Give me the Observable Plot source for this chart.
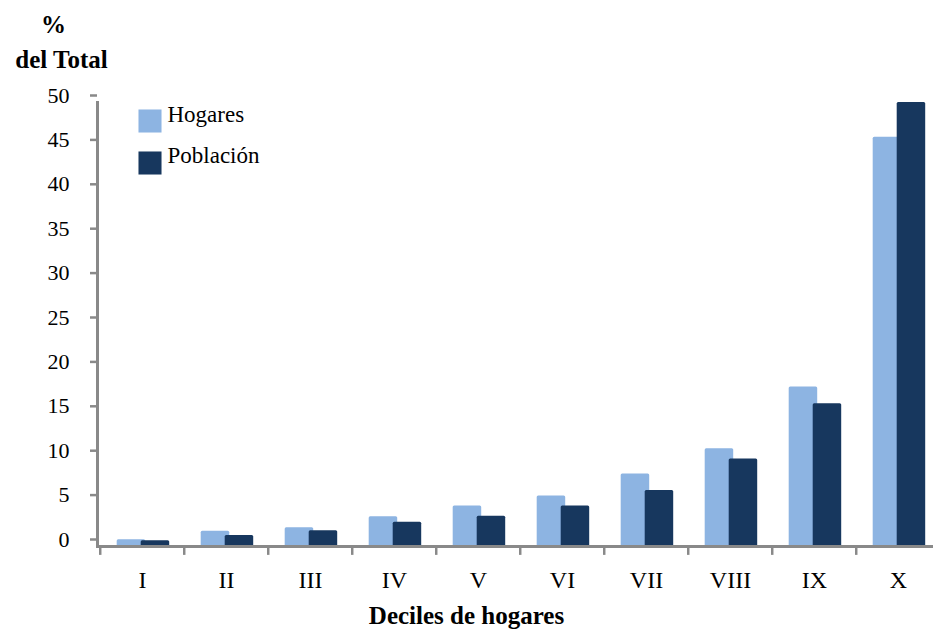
<!DOCTYPE html>
<html><head><meta charset="utf-8">
<script src="https://cdn.jsdelivr.net/npm/d3@7"></script>
<script src="https://cdn.jsdelivr.net/npm/@observablehq/plot@0.6"></script>
<style>
body{margin:0;background:#fff;}
#wrap{width:933px;height:632px;overflow:hidden;}
#wrap svg, #wrap svg text, #wrap svg tspan{font-family:"Liberation Serif","Times New Roman",serif !important;}
</style></head><body><div id="wrap"></div>
<script>
const deciles = ["I","II","III","IV","V","VI","VII","VIII","IX","X"];
const hogares = [0.75,1.73,2.1,3.34,4.57,5.68,8.16,11.0,17.96,46.1];
const poblacion = [0.65,1.24,1.76,2.74,3.41,4.55,6.32,9.85,16.08,50.0];
const seriesNames = ["Hogares","Población"];
const seriesColors = ["#8DB4E2","#17375E"];
const yTicks = [0,5,10,15,20,25,30,35,40,45,50];
const yTitle = ["%","del Total"];
const xTitle = "Deciles de hogares";

const FONT = '"Liberation Serif", serif';
const dataH = deciles.map((d,i)=>({decil:d, value:hogares[i]}));
const dataP = deciles.map((d,i)=>({decil:d, value:poblacion[i]}));
const axisColor = "#898989";
const bw = (942.8-97.3)/10;

const chart = Plot.plot({
  width: 933, height: 632,
  marginLeft: 97, marginRight: 0, marginTop: 102, marginBottom: 86,
  style: {fontFamily: FONT, color: "#000", background: "#fff"},
  x: {type: "band", domain: deciles, range: [97.3, 942.8], padding: 0},
  y: {domain: [0, 50], range: [546, 102]},
  marks: [
    Plot.barY(dataH, {x: "decil", y: "value", fill: seriesColors[0], insetLeft: 16.7, insetRight: 38.8, rx: 1.5}),
    Plot.barY(dataP, {x: "decil", y: "value", fill: seriesColors[1], insetLeft: 40.7, insetRight: 14.8, rx: 1.5}),
    Plot.axisY({ticks: yTicks, tickSize: 7, tickPadding: 21, stroke: axisColor, strokeWidth: 2.5, fontSize: 22, fontFamily: FONT, dy: -7, label: null, tickFormat: d=>String(d)}),
    Plot.frame({anchor: "left", stroke: axisColor, strokeWidth: 3}),
    Plot.ruleX(deciles, {x: d=>d, dx: -bw/2, y1: 0, y2: -1.0, stroke: axisColor, strokeWidth: 2.5}),
    Plot.ruleY([0], {stroke: axisColor, strokeWidth: 3}),
    Plot.axisX({tickSize: 0, tickPadding: 24, fontSize: 24, fontFamily: FONT, label: null}),
    Plot.text([xTitle], {frameAnchor: "bottom", dx: -49, dy: 77, lineAnchor: "bottom", fontSize: 25, fontWeight: "bold", fontFamily: FONT, fill: "#000"}),
    Plot.text([yTitle[0]], {frameAnchor: "top-left", dx: -44, dy: -70, lineAnchor: "bottom", textAnchor: "middle", fontSize: 25, fontWeight: "bold", fontFamily: FONT, fill: "#000"}),
    Plot.text([yTitle[1]], {frameAnchor: "top-left", dx: -36, dy: -35, lineAnchor: "bottom", textAnchor: "middle", fontSize: 25, fontWeight: "bold", fontFamily: FONT, fill: "#000"}),
    Plot.dot([0], {frameAnchor: "top-left", dx: 52.5, dy: 18.5, symbol: "square", r: 13, fill: seriesColors[0], stroke: null}),
    Plot.dot([0], {frameAnchor: "top-left", dx: 52.5, dy: 60.5, symbol: "square", r: 13, fill: seriesColors[1], stroke: null}),
    Plot.text([seriesNames[0]], {frameAnchor: "top-left", dx: 70, dy: 19, lineAnchor: "bottom", textAnchor: "start", fontSize: 23, fontFamily: FONT, fill: "#000"}),
    Plot.text([seriesNames[1]], {frameAnchor: "top-left", dx: 70, dy: 60, lineAnchor: "bottom", textAnchor: "start", fontSize: 23, fontFamily: FONT, fill: "#000"})
  ]
});
document.getElementById("wrap").appendChild(chart);
</script>
</body></html>
